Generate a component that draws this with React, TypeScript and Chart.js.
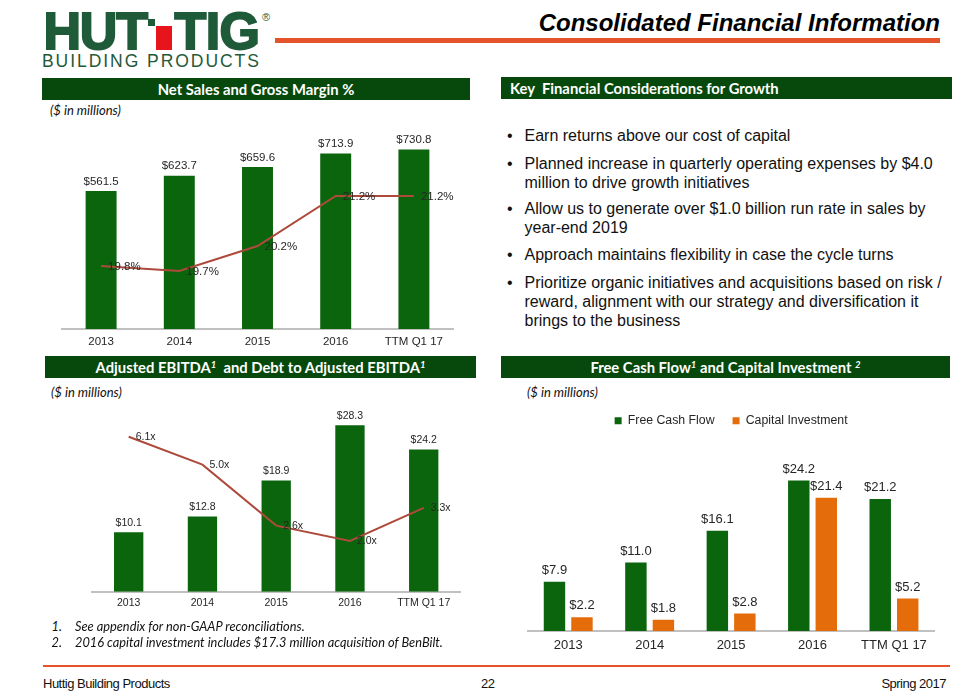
import React, { useEffect, useRef } from "react";
import { Chart, registerables } from "chart.js";

Chart.register(...registerables);

// ---------- data ----------
const categories = ["2013", "2014", "2015", "2016", "TTM Q1 17"];
const netSales = [561.5, 623.7, 659.6, 713.9, 730.8];
const grossMarginPct = [19.8, 19.7, 20.2, 21.2, 21.2];
const adjustedEbitda = [10.1, 12.8, 18.9, 28.3, 24.2];
const debtToEbitda = [6.1, 5.0, 2.6, 2.0, 3.3];
const seriesNames = ["Free Cash Flow", "Capital Investment"];
const freeCashFlow = [7.9, 11.0, 16.1, 24.2, 21.2];
const capitalInvestment = [2.2, 1.8, 2.8, 21.4, 5.2];

const bullets = [
  ["Earn returns above our cost of capital"],
  ["Planned increase in quarterly operating expenses by $4.0", "million to drive growth initiatives"],
  ["Allow us to generate over $1.0 billion run rate in sales by", "year-end 2019"],
  ["Approach maintains flexibility in case the cycle turns"],
  [
    "Prioritize organic initiatives and acquisitions based on risk /",
    "reward, alignment with our strategy and diversification it",
    "brings to the business",
  ],
];
const footnotes = [
  "See appendix for non-GAAP reconciliations.",
  "2016 capital investment includes $17.3 million acquisition of BenBilt.",
];

// ---------- styles ----------
const ARIAL = '"Liberation Sans", Arial, Helvetica, sans-serif';
const CAL = 'Lato, "Open Sans", "Liberation Sans", sans-serif';
const BAR_GREEN = "#0b650c";
const HDR_GREEN = "#07490c";
const LOGO_GREEN = "#1f5a39";
const LINE_RED = "#ad4a3c";
const ORANGE = "#e46c0a";
const ACCENT = "#e5532a";
const TEXT = "#262626";
const AXIS = "#c0c0c0";

type LabelSpec = {
  index: number;
  size: number;
  pos: "above" | "right";
  dx: number;
  dy: number;
  format: (v: number) => string;
};

function labelPlugin(specs: LabelSpec[]) {
  return {
    id: "valueLabels",
    afterDatasetsDraw(chart: any) {
      const ctx = chart.ctx;
      specs.forEach((s) => {
        const meta = chart.getDatasetMeta(s.index);
        const data = chart.data.datasets[s.index].data as number[];
        ctx.save();
        ctx.font = `${s.size}px ${ARIAL}`;
        ctx.fillStyle = TEXT;
        ctx.textBaseline = "middle";
        meta.data.forEach((el: any, i: number) => {
          const t = s.format(data[i]);
          if (s.pos === "above") {
            ctx.textAlign = "center";
            ctx.fillText(t, el.x, el.y - s.dy);
          } else {
            ctx.textAlign = "left";
            ctx.fillText(t, el.x + s.dx, el.y + s.dy);
          }
        });
        ctx.restore();
      });
    },
  };
}

const money = (v: number) => "$" + v.toFixed(1);

function xScale(size: number, padding: number) {
  return {
    grid: { display: false, drawTicks: false },
    border: { display: true, color: AXIS, width: 2 },
    ticks: { color: TEXT, font: { size, family: ARIAL }, padding },
  };
}

function Txt(props: { x: number; cy: number; size: number; children: any; style?: any }) {
  const h = Math.round(props.size * 1.6);
  return (
    <div
      style={{
        position: "absolute",
        left: props.x,
        top: props.cy - h / 2,
        height: h,
        lineHeight: h + "px",
        fontSize: props.size,
        whiteSpace: "pre",
        ...props.style,
      }}
    >
      {props.children}
    </div>
  );
}

function Header(props: { x: number; y: number; w: number; align: "center" | "left"; children: any }) {
  return (
    <div
      style={{
        position: "absolute",
        left: props.x,
        top: props.y,
        width: props.w,
        height: 22,
        background: HDR_GREEN,
        color: "#fff",
        fontFamily: CAL,
        fontWeight: 700,
        fontSize: 14.8,
        lineHeight: "22px",
        textAlign: props.align,
        paddingLeft: props.align === "left" ? 9 : 0,
        boxSizing: "border-box",
        whiteSpace: "pre",
      }}
    >
      {props.children}
    </div>
  );
}

const Sup = (p: { children: any }) => (
  <span style={{ fontSize: 9.5, fontStyle: "italic", verticalAlign: 5, lineHeight: 0 }}>{p.children}</span>
);

export default function App() {
  const c1 = useRef<HTMLCanvasElement>(null);
  const c2 = useRef<HTMLCanvasElement>(null);
  const c3 = useRef<HTMLCanvasElement>(null);

  useEffect(() => {
    Chart.defaults.font.family = ARIAL;
    Chart.defaults.color = TEXT;

    const chart1 = new Chart(c1.current as HTMLCanvasElement, {
      type: "bar",
      data: {
        labels: categories,
        datasets: [
          {
            type: "line",
            data: grossMarginPct,
            yAxisID: "y2",
            borderColor: LINE_RED,
            borderWidth: 2,
            pointRadius: 0,
            tension: 0,
            order: 0,
          } as any,
          {
            type: "bar",
            data: netSales,
            yAxisID: "y",
            backgroundColor: BAR_GREEN,
            categoryPercentage: 0.8,
            barPercentage: 0.495,
            order: 1,
          },
        ],
      },
      options: {
        animation: false,
        responsive: false,
        maintainAspectRatio: false,
        layout: { padding: { left: 12, right: 17, top: 12.4, bottom: 5.2 } },
        plugins: { legend: { display: false }, tooltip: { enabled: false } },
        scales: {
          x: xScale(11.5, 6) as any,
          y: { display: false, min: 0, max: 800 },
          y2: { display: false, min: 18.54, max: 22.472, position: "right" },
        },
      },
      plugins: [
        labelPlugin([
          { index: 1, size: 11.5, pos: "above", dx: 0, dy: 9.5, format: money },
          { index: 0, size: 11.5, pos: "right", dx: 7, dy: 1, format: (v) => v.toFixed(1) + "%" },
        ]),
      ],
    });

    const chart2 = new Chart(c2.current as HTMLCanvasElement, {
      type: "bar",
      data: {
        labels: categories,
        datasets: [
          {
            type: "line",
            data: debtToEbitda,
            yAxisID: "y2",
            borderColor: LINE_RED,
            borderWidth: 2,
            pointRadius: 0,
            tension: 0,
            order: 0,
          } as any,
          {
            type: "bar",
            data: adjustedEbitda,
            yAxisID: "y",
            backgroundColor: BAR_GREEN,
            categoryPercentage: 0.8,
            barPercentage: 0.497,
            order: 1,
          },
        ],
      },
      options: {
        animation: false,
        responsive: false,
        maintainAspectRatio: false,
        layout: { padding: { left: 11.8, right: 14.4, top: 10.9, bottom: 2.7 } },
        plugins: { legend: { display: false }, tooltip: { enabled: false } },
        scales: {
          x: xScale(10.5, 5) as any,
          y: { display: false, min: 0, max: 35 },
          y2: { display: false, min: 0, max: 8.1, position: "right" },
        },
      },
      plugins: [
        labelPlugin([
          { index: 1, size: 10.5, pos: "above", dx: 0, dy: 9.5, format: money },
          { index: 0, size: 10.5, pos: "right", dx: 7, dy: 0.5, format: (v) => v.toFixed(1) + "x" },
        ]),
      ],
    });

    const chart3 = new Chart(c3.current as HTMLCanvasElement, {
      type: "bar",
      data: {
        labels: categories,
        datasets: [
          {
            label: seriesNames[0],
            data: freeCashFlow,
            backgroundColor: BAR_GREEN,
            categoryPercentage: 0.675,
            barPercentage: 0.78,
          },
          {
            label: seriesNames[1],
            data: capitalInvestment,
            backgroundColor: ORANGE,
            categoryPercentage: 0.675,
            barPercentage: 0.78,
          },
        ],
      },
      options: {
        animation: false,
        responsive: false,
        maintainAspectRatio: false,
        layout: { padding: { left: 27.5, right: 20.3, top: 6.7, bottom: 5.5 } },
        plugins: {
          legend: {
            display: true,
            position: "top",
            labels: {
              boxWidth: 7,
              boxHeight: 7,
              padding: 18,
              color: TEXT,
              font: { size: 12.3, family: ARIAL },
            },
          },
          tooltip: { enabled: false },
        },
        scales: {
          x: xScale(13, 6.5) as any,
          y: { display: false, min: 0, max: 31.19 },
        },
      },
      plugins: [
        labelPlugin([
          { index: 0, size: 13, pos: "above", dx: 0, dy: 11.5, format: money },
          { index: 1, size: 13, pos: "above", dx: 0, dy: 11.5, format: money },
        ]),
      ],
    });

    return () => {
      chart1.destroy();
      chart2.destroy();
      chart3.destroy();
    };
  }, []);

  // bullet line baselines
  const bulletBaselines = [[141.7], [169.3, 188.3], [215, 233.5], [261], [288.3, 307.3, 326.3]];

  const logoText = {
    position: "absolute" as const,
    top: 1.3,
    height: 60,
    lineHeight: "60px",
    fontSize: 52,
    fontWeight: 700,
    color: LOGO_GREEN,
    WebkitTextStroke: "2px " + LOGO_GREEN,
    whiteSpace: "pre" as const,
  };

  return (
    <div
      style={{
        position: "absolute",
        left: 0,
        top: 0,
        width: 970,
        height: 696,
        background: "#fff",
        overflow: "hidden",
        fontFamily: ARIAL,
        color: "#111",
      }}
    >
      {/* Logo */}
      <div style={{ ...logoText, left: 43.5, letterSpacing: -1.2 }}>HUT</div>
      <div style={{ position: "absolute", left: 148, top: 19, width: 7, height: 7, background: LOGO_GREEN }} />
      <div style={{ position: "absolute", left: 156, top: 26, width: 16, height: 23.5, background: "#e8141b" }} />
      <div style={{ ...logoText, left: 174.5, letterSpacing: -0.6 }}>TIG</div>
      <Txt x={262} cy={17} size={11} style={{ color: LOGO_GREEN }}>
        ®
      </Txt>
      <div
        style={{
          position: "absolute",
          left: 42,
          top: 51,
          height: 20,
          lineHeight: "20px",
          fontSize: 17.5,
          letterSpacing: 1.95,
          color: LOGO_GREEN,
          whiteSpace: "pre",
        }}
      >
        BUILDING PRODUCTS
      </div>

      {/* Title */}
      <div
        style={{
          position: "absolute",
          right: 970 - 940,
          top: 7.7,
          height: 30,
          lineHeight: "30px",
          fontSize: 24,
          fontWeight: 700,
          fontStyle: "italic",
          color: "#000",
          whiteSpace: "pre",
        }}
      >
        Consolidated Financial Information
      </div>
      <div style={{ position: "absolute", left: 275, top: 37.5, width: 665, height: 5, background: ACCENT }} />

      {/* Section headers */}
      <Header x={42} y={78} w={428} align="center">
        Net Sales and Gross Margin %
      </Header>
      <Header x={501} y={77} w={451} align="left">
        {"Key  Financial Considerations for Growth"}
      </Header>
      <Header x={45} y={356} w={431} align="center">
        Adjusted EBITDA<Sup>1</Sup>
        {"  and Debt to Adjusted EBITDA"}
        <Sup>1</Sup>
      </Header>
      <Header x={501} y={356} w={449} align="center">
        Free Cash Flow<Sup>1</Sup>
        {" and Capital Investment "}
        <Sup>2</Sup>
      </Header>

      {/* ($ in millions) */}
      <Txt x={50} cy={110} size={13} style={{ fontFamily: CAL, fontStyle: "italic", color: "#111" }}>
        ($ in millions)
      </Txt>
      <Txt x={51} cy={392} size={13} style={{ fontFamily: CAL, fontStyle: "italic", color: "#111" }}>
        ($ in millions)
      </Txt>
      <Txt x={527} cy={392} size={13} style={{ fontFamily: CAL, fontStyle: "italic", color: "#111" }}>
        ($ in millions)
      </Txt>

      {/* Bullets */}
      {bullets.map((lines, bi) =>
        lines.map((line, li) => {
          const base = bulletBaselines[bi][li];
          const top = base - (10 + 0.3465 * 16);
          return (
            <React.Fragment key={bi + "-" + li}>
              {li === 0 && (
                <div
                  style={{
                    position: "absolute",
                    left: 507,
                    top,
                    height: 20,
                    lineHeight: "20px",
                    fontSize: 16,
                    color: "#111",
                  }}
                >
                  •
                </div>
              )}
              <div
                style={{
                  position: "absolute",
                  left: 524.5,
                  top,
                  height: 20,
                  lineHeight: "20px",
                  fontSize: 16,
                  color: "#111",
                  whiteSpace: "pre",
                }}
              >
                {line}
              </div>
            </React.Fragment>
          );
        })
      )}

      {/* Charts */}
      <canvas
        ref={c1}
        width={420}
        height={240}
        style={{ position: "absolute", left: 50, top: 120, width: 420, height: 240 }}
      />
      <canvas
        ref={c2}
        width={395}
        height={242}
        style={{ position: "absolute", left: 80, top: 375, width: 395, height: 242 }}
      />
      <canvas
        ref={c3}
        width={455}
        height={275}
        style={{ position: "absolute", left: 500, top: 390, width: 455, height: 275 }}
      />

      {/* Footnotes */}
      {footnotes.map((f, i) => (
        <React.Fragment key={"fn" + i}>
          <Txt x={51.5} cy={626 + i * 15.7} size={12.8} style={{ fontFamily: CAL, fontStyle: "italic", color: "#111" }}>
            {i + 1 + "."}
          </Txt>
          <Txt x={75} cy={626 + i * 15.7} size={12.8} style={{ fontFamily: CAL, fontStyle: "italic", color: "#111" }}>
            {f}
          </Txt>
        </React.Fragment>
      ))}

      {/* Footer */}
      <div style={{ position: "absolute", left: 43, top: 665, width: 907, height: 2, background: ACCENT }} />
      <Txt x={43} cy={683} size={13} style={{ letterSpacing: -0.5, color: "#111" }}>
        Huttig Building Products
      </Txt>
      <Txt x={481} cy={683} size={13} style={{ letterSpacing: -0.5, color: "#111" }}>
        22
      </Txt>
      <div
        style={{
          position: "absolute",
          right: 970 - 946,
          top: 683 - 10.5,
          height: 21,
          lineHeight: "21px",
          fontSize: 13,
          letterSpacing: -0.5,
          color: "#111",
          whiteSpace: "pre",
        }}
      >
        Spring 2017
      </div>
    </div>
  );
}
